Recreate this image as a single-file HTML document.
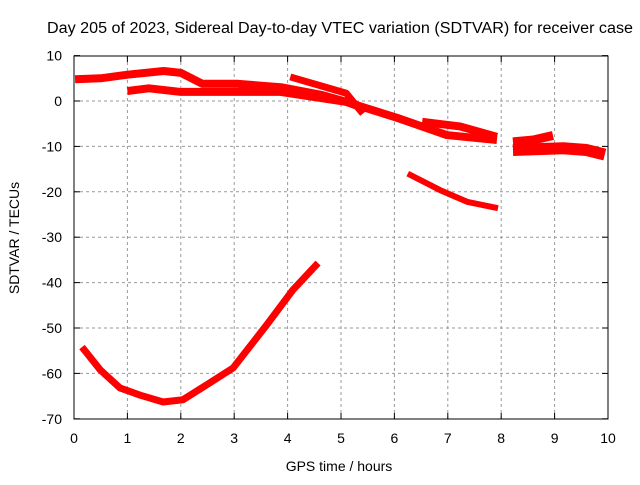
<!DOCTYPE html>
<html><head><meta charset="utf-8"><style>
body{margin:0;background:#fff}
svg text{font-family:"Liberation Sans",sans-serif;fill:#000}
</style></head><body>
<svg width="640" height="480" xmlns="http://www.w3.org/2000/svg">
<rect width="640" height="480" fill="#fff"/>
<text x="47" y="33" font-size="15.5" textLength="586" lengthAdjust="spacingAndGlyphs">Day 205 of 2023, Sidereal Day-to-day VTEC variation (SDTVAR) for receiver case</text>
<g id="grid"></g>
<g id="axes"></g>
<g id="series"></g>
<text x="339" y="471" font-size="14" text-anchor="middle">GPS time / hours</text>
<text transform="translate(19,238) rotate(-90)" font-size="14" text-anchor="middle">SDTVAR / TECUs</text>
</svg>
<script>
const xTicks=[0,1,2,3,4,5,6,7,8,9,10];
const yTicks=[10,0,-10,-20,-30,-40,-50,-60,-70];
const seriesUpperA=[[0.02,4.8],[0.5,5],[1.0,5.8],[1.68,6.6],[2.0,6.2],[2.4,3.8],[3.05,3.8],[3.9,3.0],[4.65,1.3],[5.1,-0.2],[5.4,-1.5]];
const seriesUpperB=[[1.0,2.2],[1.4,2.8],[2.0,2.0],[3.05,2.0],[3.87,2.0],[5.1,-0.2],[6.05,-3.7],[6.98,-7.5],[7.92,-8.6]];
const seriesUpperC=[[4.05,5.3],[5.1,1.7],[5.41,-2.8]];
const seriesUpperD=[[6.52,-4.6],[7.23,-5.6],[7.92,-7.9]];
const seriesLate1=[[8.22,-9.0],[8.6,-8.6],[8.97,-7.6]];
const seriesLate2=[[8.22,-10.8],[9.16,-10.4],[9.6,-10.8],[9.94,-11.8]];
const seriesMid=[[6.25,-16.0],[6.85,-19.6],[7.36,-22.2],[7.94,-23.6]];
const seriesLow=[[0.15,-54.2],[0.49,-59.2],[0.86,-63.2],[1.24,-64.8],[1.67,-66.3],[2.04,-65.8],[2.42,-63.0],[2.98,-58.8],[3.61,-49.3],[4.10,-41.6],[4.57,-35.7]];
const X=h=>74+h*53.4, Y=v=>101-v*4.54;
const NS="http://www.w3.org/2000/svg";
function mk(t,a,p){const e=document.createElementNS(NS,t);for(const k in a)e.setAttribute(k,a[k]);p.appendChild(e);return e;}
const grid=document.getElementById('grid'),axes=document.getElementById('axes'),ser=document.getElementById('series');
xTicks.forEach(t=>{
 if(t>0&&t<10){const l=mk('line',{x1:X(t),x2:X(t),y1:56,y2:419,stroke:'#999','stroke-dasharray':'3,3'},grid);
 
 }
 mk('line',{x1:X(t),x2:X(t),y1:419,y2:413,stroke:'#000'},axes);
 mk('line',{x1:X(t),x2:X(t),y1:56,y2:62,stroke:'#000'},axes);
 const tx=mk('text',{x:X(t),y:443,'font-size':14,'text-anchor':'middle'},axes);tx.textContent=t;
 
 
});
yTicks.forEach(t=>{
 if(t<10&&t>-70){const l=mk('line',{x1:74,x2:608,y1:Y(t),y2:Y(t),stroke:'#999','stroke-dasharray':'3,3'},grid);
 
 }
 mk('line',{x1:74,x2:80,y1:Y(t),y2:Y(t),stroke:'#000'},axes);
 mk('line',{x1:602,x2:608,y1:Y(t),y2:Y(t),stroke:'#000'},axes);
 const tx=mk('text',{x:62,y:Y(t)+5,'font-size':14,'text-anchor':'end'},axes);tx.textContent=t;
 
 
});
const fr=mk('rect',{x:74,y:56,width:534,height:363,fill:'none',stroke:'#000'},axes);


[[seriesUpperA,8],[seriesUpperB,8],[seriesUpperC,7],[seriesUpperD,8],[seriesLate1,9],[seriesLate2,12],[seriesMid,6],[seriesLow,7]].forEach(([d,w])=>{
 const p=mk('polyline',{points:d.map(q=>X(q[0])+','+Y(q[1])).join(' '),fill:'none',stroke:'#f00','stroke-width':w,'stroke-linejoin':'round'},ser);
 
 
});
</script>
</body></html>
